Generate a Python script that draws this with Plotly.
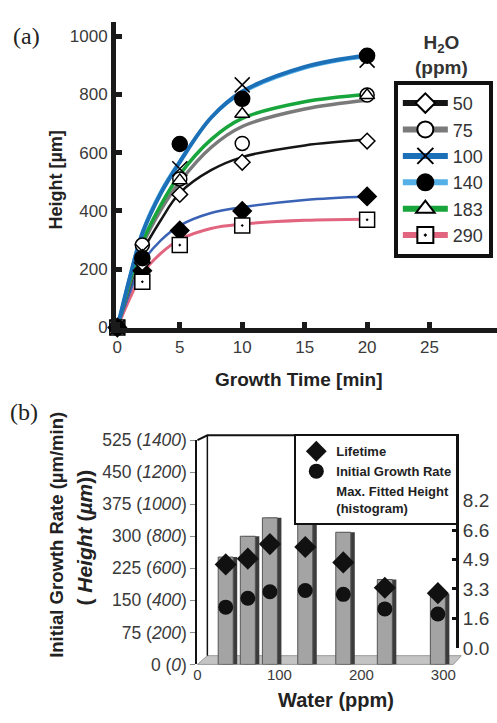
import plotly.graph_objects as go

W, H = 497, 723


def px(x):
    return x / W


def py(y):
    return 1 - y / H


# ---------------- (a) data ----------------
time_pts = [0, 2, 5, 10, 20]
h_50 = [0, 222, 457, 567, 640]
h_75 = [0, 283, 510, 632, 798]
h_100 = [0, 262, 545, 833, 918]
h_140 = [0, 238, 630, 785, 933]
h_183 = [0, 245, 505, 733, 797]
h_290 = [0, 157, 283, 350, 370]
h_230 = [0, 195, 333, 400, 450]  # series without legend entry

fit_t = [0, 1, 2, 3.5, 5, 7.5, 10, 15, 20]
fit_50 = [0, 140, 258, 370, 462, 540, 585, 625, 645]
fit_75 = [0, 150, 282, 405, 500, 618, 690, 750, 780]
fit_100 = [0, 172, 322, 462, 568, 720, 810, 895, 935]
fit_140 = [0, 176, 330, 470, 572, 720, 805, 890, 930]
fit_183 = [0, 158, 292, 422, 525, 645, 718, 775, 800]
fit_290 = [0, 100, 185, 255, 302, 340, 355, 368, 372]
fit_230 = [0, 120, 222, 300, 350, 393, 413, 438, 450]

legend_labels = ["50", "75", "100", "140", "183", "290"]

# ---------------- (b) data ----------------
water_ppm = [50, 75, 100, 140, 183, 230, 290]
max_height_um = [670, 800, 915, 950, 825, 530, 440]
growth_rate = [134, 155, 170, 173, 164, 130, 118]
lifetime_min = [4.65, 4.97, 5.78, 5.62, 4.76, 3.35, 3.05]

rate_ticks = [0, 75, 150, 225, 300, 375, 450, 525]
height_ticks = [0, 200, 400, 600, 800, 1000, 1200, 1400]
life_ticks = [0, 1.64, 3.28, 4.92, 6.56, 8.2]
life_tick_text = ["0.0", "1.6", "3.3", "4.9", "6.6", "8.2"]
water_ticks = [0, 100, 200, 300]

FONT = "Arial, Liberation Sans, sans-serif"
SERIF = "Times New Roman, Liberation Serif, serif"

fig = go.Figure()

styles = {
    "50": dict(color="#151515", width=2.5, sym="diamond", fill="white", size=12),
    "75": dict(color="#7a7a7a", width=3.5, sym="circle", fill="white", size=14),
    "100": dict(color="#1c70b8", width=4, sym="x-thin-open", fill="black", size=15),
    "140": dict(color="#55b0e8", width=3, sym="circle", fill="black", size=15),
    "183": dict(color="#17a53c", width=3.5, sym="triangle-up", fill="white", size=13),
    "290": dict(color="#e2657f", width=3, sym="square-dot", fill="white", size=15),
    "230": dict(color="#3a62b5", width=2.5, sym="diamond", fill="black", size=14),
}
pts = {"50": h_50, "75": h_75, "100": h_100, "140": h_140, "183": h_183,
       "290": h_290, "230": h_230}
fits = {"50": fit_50, "75": fit_75, "100": fit_100, "140": fit_140,
        "183": fit_183, "290": fit_290, "230": fit_230}

line_order = ["290", "230", "50", "75", "183", "140", "100"]
for k in line_order:
    s = styles[k]
    fig.add_trace(go.Scatter(x=fit_t, y=fits[k], mode="lines",
                             line=dict(color=s["color"], width=s["width"], shape="spline"),
                             showlegend=False, hoverinfo="skip", xaxis="x", yaxis="y"))

marker_order = ["230", "290", "50", "75", "183", "140", "100"]
for k in marker_order:
    s = styles[k]
    fig.add_trace(go.Scatter(x=time_pts, y=pts[k], mode="markers",
                             marker=dict(symbol=s["sym"], size=s["size"], color=s["fill"],
                                         line=dict(color="black", width=1.5)),
                             cliponaxis=False, showlegend=False, xaxis="x", yaxis="y"))

for k in legend_labels:
    s = styles[k]
    fig.add_trace(go.Scatter(x=[None], y=[None], mode="lines+markers", name=k,
                             line=dict(color=s["color"], width=6),
                             marker=dict(symbol=s["sym"], size=s["size"] + 3, color=s["fill"],
                                         line=dict(color="black", width=2)),
                             xaxis="x", yaxis="y", legend="legend"))

# ---------------- (b) traces ----------------
fig.add_trace(go.Bar(x=water_ppm, y=max_height_um, width=17, offset=-4,
                     marker=dict(color="#3c3c3c", line=dict(width=0)),
                     showlegend=False, xaxis="x2", yaxis="y2"))
fig.add_trace(go.Bar(x=water_ppm, y=max_height_um, width=17, offset=-8.5,
                     marker=dict(color="#a4a4a4", line=dict(color="#555555", width=1)),
                     showlegend=False, xaxis="x2", yaxis="y2"))
fig.add_trace(go.Scatter(x=water_ppm, y=lifetime_min, mode="markers",
                         name="<b>Lifetime</b>",
                         marker=dict(symbol="diamond", size=17, color="#111"),
                         xaxis="x2", yaxis="y4", legend="legend2", cliponaxis=False,
                         legendrank=1))
fig.add_trace(go.Scatter(x=water_ppm, y=growth_rate, mode="markers",
                         name="<b>Initial Growth Rate</b>",
                         marker=dict(symbol="circle", size=15, color="#111"),
                         xaxis="x2", yaxis="y3", legend="legend2", cliponaxis=False,
                         legendrank=2))
fig.add_trace(go.Scatter(x=[None], y=[None], mode="markers",
                         name="<b>Max. Fitted Height<br>(histogram)</b>",
                         marker=dict(color="rgba(0,0,0,0)", size=1),
                         xaxis="x2", yaxis="y2", legend="legend2", legendrank=3))
# carrier for the printed water-axis labels (perspective-shifted scale)
fig.add_trace(go.Scatter(x=water_ppm, y=[None] * len(water_ppm), mode="markers",
                         showlegend=False, hoverinfo="skip", xaxis="x3", yaxis="y2"))

axis_col = "#1a1a1a"
tick_font = dict(family=FONT, size=17, color="#3a3a3a")

layout = dict(
    width=W, height=H, margin=dict(l=0, r=0, t=0, b=0),
    paper_bgcolor="white", plot_bgcolor="rgba(0,0,0,0)",
    barmode="overlay",
    font=dict(family=FONT, color="#222"),
    xaxis=dict(domain=[px(113), 1.0], range=[-0.1, 30.4], anchor="y",
               tickvals=[0, 5, 10, 15, 20, 25], ticks="inside", ticklen=6, tickwidth=5,
               tickcolor=axis_col, showline=True, linewidth=5, linecolor=axis_col,
               showgrid=False, zeroline=False, tickfont=tick_font),
    yaxis=dict(domain=[py(327), py(12)], range=[0, 1050], anchor="x",
               tickvals=[0, 200, 400, 600, 800, 1000], ticks="inside", ticklen=6, tickwidth=5,
               tickcolor=axis_col, showline=True, linewidth=5, linecolor=axis_col,
               showgrid=False, zeroline=False, tickfont=tick_font),
    xaxis2=dict(domain=[px(195), px(457)], range=[18, 312], anchor="y2",
                showticklabels=False, ticks="", showline=False, showgrid=False,
                zeroline=False),
    xaxis3=dict(range=[0, 317], anchor="y2", overlaying="x2", side="bottom",
                tickvals=water_ticks, ticks="", showline=False, showgrid=False,
                zeroline=False, tickfont=dict(family=FONT, size=15, color="#3a3a3a")),
    yaxis2=dict(domain=[py(674), py(443)], range=[0, 1400], anchor="x2",
                tickvals=height_ticks,
                ticktext=[f"{r} (<i>{h}</i>)" for r, h in zip(rate_ticks, height_ticks)],
                ticks="outside", ticklen=5, tickcolor="#888", showline=True, linewidth=2,
                linecolor="#111", showgrid=False, zeroline=False,
                tickfont=dict(family=FONT, size=17.5, color="#3a3a3a")),
    yaxis3=dict(range=[0, 525], overlaying="y2", anchor="x2", visible=False),
    yaxis4=dict(domain=[py(657), py(437)], range=[0, (657 - 437) / 18.5], anchor="free",
                position=px(457), side="right", tickvals=life_ticks, ticktext=life_tick_text,
                ticks="inside", ticklen=5, tickwidth=3, tickcolor="#111", showline=True,
                linewidth=2.5, linecolor="#111", showgrid=False, zeroline=False,
                tickfont=dict(family=FONT, size=19, color="#3a3a3a")),
    legend=dict(x=px(393), y=py(73), xanchor="left", yanchor="top", bgcolor="white",
                bordercolor="#111", borderwidth=4, itemwidth=45,
                font=dict(family=FONT, size=18, color="#333"), traceorder="normal"),
    legend2=dict(x=px(458), y=py(437), xanchor="right", yanchor="top", bgcolor="white",
                 bordercolor="#111", borderwidth=2, itemwidth=30,
                 font=dict(family=FONT, size=13, color="#222"), traceorder="normal"),
)
fig.update_layout(**layout)

ann = [
    dict(text="(a)", x=px(7), y=py(27), xanchor="left", yanchor="middle",
         font=dict(family=SERIF, size=24, color="#222")),
    dict(text="(b)", x=px(4), y=py(414), xanchor="left", yanchor="middle",
         font=dict(family=SERIF, size=24, color="#222")),
    dict(text="<b>H<sub>2</sub>O<br>(ppm)</b>", x=px(441), y=py(46), xanchor="center",
         yanchor="middle", font=dict(family=FONT, size=19, color="#333")),
    dict(text="<b>Height [µm]</b>", x=px(52), y=py(175), textangle=-90, xanchor="center",
         yanchor="middle", font=dict(family=FONT, size=18, color="#222")),
    dict(text="<b>Growth Time [min]</b>", x=px(297), y=py(381), xanchor="center",
         yanchor="middle", font=dict(family=FONT, size=19, color="#222")),
    dict(text="<b>Initial Growth Rate (µm/min)</b>", x=px(53), y=py(541), textangle=-90,
         xanchor="center", yanchor="middle", font=dict(family=FONT, size=18.5, color="#222")),
    dict(text="<b>( <i>Height</i> (<i>µm</i>))</b>", x=px(81), y=py(543), textangle=-90,
         xanchor="center", yanchor="middle", font=dict(family=FONT, size=21, color="#222")),
    dict(text="<b>Water (ppm)</b>", x=px(335), y=py(711), xanchor="center",
         yanchor="middle", font=dict(family=FONT, size=20, color="#222")),
]
for a in ann:
    a.update(xref="paper", yref="paper", showarrow=False)
fig.update_layout(annotations=ann)


def path(points, close=False):
    d = "M " + " L ".join(f"{px(x):.4f},{py(y):.4f}" for x, y in points)
    return d + (" Z" if close else "")


shapes = [
    dict(type="path", path=path([(195, 674), (205, 665), (461, 665), (453, 674)], True),
         fillcolor="#c4c4c4", line=dict(color="#999", width=1), layer="below"),
    dict(type="path", path=path([(195, 443), (205, 438), (457, 438)]),
         line=dict(color="#111", width=2), layer="below"),
    dict(type="path", path=path([(205, 438), (205, 665)]),
         line=dict(color="#111", width=1.5), layer="below"),
]
for s in shapes:
    s.update(xref="paper", yref="paper")
fig.update_layout(shapes=shapes)

fig.write_html("out.html")
